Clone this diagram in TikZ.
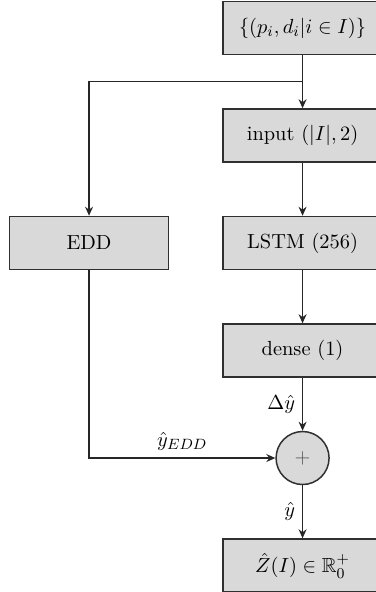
\documentclass[11pt,tikz,border=0pt]{standalone}
\usepackage{amsmath}
\usepackage{amssymb}
\usepackage{xcolor}
\usepackage{tikz}
\usetikzlibrary{arrows.meta,positioning,calc}
\definecolor{boxfill}{HTML}{D9D9D9}
\definecolor{boxline}{HTML}{303030}
\definecolor{plusgray}{HTML}{5A5A5A}
\tikzset{
  blk/.style={draw=boxline, line width=.8pt, fill=boxfill, align=center, minimum width=3cm, minimum height=1cm},
  sumc/.style={circle, draw=boxline, line width=.8pt, fill=boxfill, minimum size=1cm, inner sep=0pt, text=plusgray},
  ar/.style={-{Stealth[length=1.7mm, width=1.5mm]}, line width=.8pt, draw=black!85},
  lbl/.style={font=\normalsize},
}
\begin{document}
\begin{tikzpicture}
  \useasboundingbox (-1.708,0.528) rectangle (5.368,-10.64);
  \node[blk] (data) at (4,0) {$\{(p_i, d_i | i \in I)\}$};
  \node[blk, below=1cm of data] (inp) {input $(|I|, 2)$};
  \node[blk, below=1cm of inp] (lstm) {LSTM $(256)$};
  \node[blk, below=1cm of lstm] (dense) {dense $(1)$};
  \node[sumc, below=1cm of dense] (sum) {$+$};
  \node[blk, below=1cm of sum] (out) {$\hat{Z}(I) \in \mathbb{R}_0^+$};
  \node[blk, left=1cm of lstm] (edd) {EDD};
  \coordinate (split) at ($(data.south)!.5!(inp.north)$);
  % main branch
  \draw[ar] (data) -- (inp);
  \draw[ar] (inp) -- (lstm);
  \draw[ar] (lstm) -- (dense);
  \draw[ar] (dense) -- node[lbl, left] {$\Delta\hat{y}$} (sum);
  \draw[ar] (sum) -- node[lbl, left] {$\hat{y}$} (out);
  % EDD branch
  \draw[ar] (split) -| (edd);
  \draw[ar] (edd) |- node[lbl, pos=.75, above] {$\hat{y}_{EDD}$} (sum);
\end{tikzpicture}
\end{document}
